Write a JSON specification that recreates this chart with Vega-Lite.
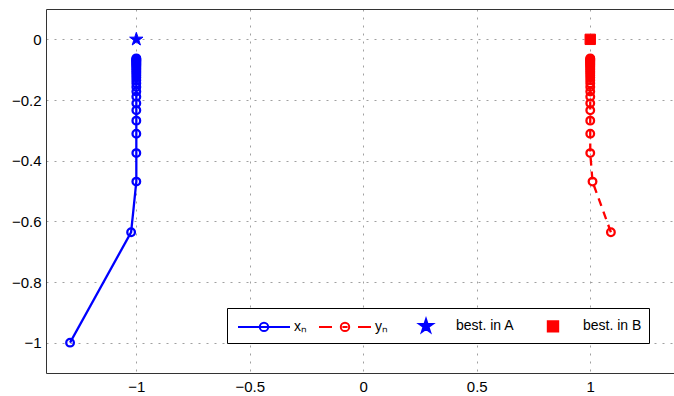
{
  "$schema": "https://vega.github.io/schema/vega-lite/v6.json",
  "autosize": "none",
  "width": 628,
  "height": 364,
  "padding": {"left": 46, "top": 9, "right": 0, "bottom": 23},
  "background": "white",
  "config": {
    "view": {"stroke": null},
    "font": "Liberation Sans",
    "axis": {
      "labelFont": "Liberation Sans",
      "labelFontSize": 15,
      "labelColor": "#000",
      "domainColor": "#333",
      "domainWidth": 1,
      "gridColor": "#a0a0a0",
      "gridDash": [2, 6],
      "gridWidth": 1,
      "ticks": false,
      "title": null
    },
    "legend": {
      "labelFont": "Liberation Sans",
      "labelFontSize": 14,
      "labelColor": "#000"
    }
  },
  "datasets": {
    "traj": [
      {"series": "x", "label": "xₙ", "n": 1, "x": -1.292, "y": -1.0},
      {"series": "x", "label": "xₙ", "n": 2, "x": -1.023, "y": -0.636},
      {"series": "x", "label": "xₙ", "n": 3, "x": -1.0, "y": -0.469},
      {"series": "x", "label": "xₙ", "n": 4, "x": -1.0, "y": -0.375},
      {"series": "x", "label": "xₙ", "n": 5, "x": -1.0, "y": -0.311},
      {"series": "x", "label": "xₙ", "n": 6, "x": -1.0, "y": -0.268},
      {"series": "x", "label": "xₙ", "n": 7, "x": -1.0, "y": -0.234},
      {"series": "x", "label": "xₙ", "n": 8, "x": -1.0, "y": -0.211},
      {"series": "x", "label": "xₙ", "n": 9, "x": -1.0, "y": -0.189},
      {"series": "x", "label": "xₙ", "n": 10, "x": -1.0, "y": -0.172},
      {"series": "x", "label": "xₙ", "n": 11, "x": -1.0, "y": -0.157},
      {"series": "x", "label": "xₙ", "n": 12, "x": -1.0, "y": -0.145},
      {"series": "x", "label": "xₙ", "n": 13, "x": -1.0, "y": -0.135},
      {"series": "x", "label": "xₙ", "n": 14, "x": -1.0, "y": -0.126},
      {"series": "x", "label": "xₙ", "n": 15, "x": -1.0, "y": -0.118},
      {"series": "x", "label": "xₙ", "n": 16, "x": -1.0, "y": -0.111},
      {"series": "x", "label": "xₙ", "n": 17, "x": -1.0, "y": -0.105},
      {"series": "x", "label": "xₙ", "n": 18, "x": -1.0, "y": -0.0995},
      {"series": "x", "label": "xₙ", "n": 19, "x": -1.0, "y": -0.0944},
      {"series": "x", "label": "xₙ", "n": 20, "x": -1.0, "y": -0.0899},
      {"series": "x", "label": "xₙ", "n": 21, "x": -1.0, "y": -0.0857},
      {"series": "x", "label": "xₙ", "n": 22, "x": -1.0, "y": -0.082},
      {"series": "x", "label": "xₙ", "n": 23, "x": -1.0, "y": -0.0785},
      {"series": "x", "label": "xₙ", "n": 24, "x": -1.0, "y": -0.0753},
      {"series": "x", "label": "xₙ", "n": 25, "x": -1.0, "y": -0.0724},
      {"series": "x", "label": "xₙ", "n": 26, "x": -1.0, "y": -0.0697},
      {"series": "x", "label": "xₙ", "n": 27, "x": -1.0, "y": -0.0672},
      {"series": "x", "label": "xₙ", "n": 28, "x": -1.0, "y": -0.0648},
      {"series": "x", "label": "xₙ", "n": 29, "x": -1.0, "y": -0.0627},
      {"series": "y", "label": "yₙ", "n": 2, "x": 1.091, "y": -0.636},
      {"series": "y", "label": "yₙ", "n": 3, "x": 1.01, "y": -0.469},
      {"series": "y", "label": "yₙ", "n": 4, "x": 1.0, "y": -0.375},
      {"series": "y", "label": "yₙ", "n": 5, "x": 1.0, "y": -0.311},
      {"series": "y", "label": "yₙ", "n": 6, "x": 1.0, "y": -0.268},
      {"series": "y", "label": "yₙ", "n": 7, "x": 1.0, "y": -0.234},
      {"series": "y", "label": "yₙ", "n": 8, "x": 1.0, "y": -0.211},
      {"series": "y", "label": "yₙ", "n": 9, "x": 1.0, "y": -0.189},
      {"series": "y", "label": "yₙ", "n": 10, "x": 1.0, "y": -0.172},
      {"series": "y", "label": "yₙ", "n": 11, "x": 1.0, "y": -0.157},
      {"series": "y", "label": "yₙ", "n": 12, "x": 1.0, "y": -0.145},
      {"series": "y", "label": "yₙ", "n": 13, "x": 1.0, "y": -0.135},
      {"series": "y", "label": "yₙ", "n": 14, "x": 1.0, "y": -0.126},
      {"series": "y", "label": "yₙ", "n": 15, "x": 1.0, "y": -0.118},
      {"series": "y", "label": "yₙ", "n": 16, "x": 1.0, "y": -0.111},
      {"series": "y", "label": "yₙ", "n": 17, "x": 1.0, "y": -0.105},
      {"series": "y", "label": "yₙ", "n": 18, "x": 1.0, "y": -0.0995},
      {"series": "y", "label": "yₙ", "n": 19, "x": 1.0, "y": -0.0944},
      {"series": "y", "label": "yₙ", "n": 20, "x": 1.0, "y": -0.0899},
      {"series": "y", "label": "yₙ", "n": 21, "x": 1.0, "y": -0.0857},
      {"series": "y", "label": "yₙ", "n": 22, "x": 1.0, "y": -0.082},
      {"series": "y", "label": "yₙ", "n": 23, "x": 1.0, "y": -0.0785},
      {"series": "y", "label": "yₙ", "n": 24, "x": 1.0, "y": -0.0753},
      {"series": "y", "label": "yₙ", "n": 25, "x": 1.0, "y": -0.0724},
      {"series": "y", "label": "yₙ", "n": 26, "x": 1.0, "y": -0.0697},
      {"series": "y", "label": "yₙ", "n": 27, "x": 1.0, "y": -0.0672},
      {"series": "y", "label": "yₙ", "n": 28, "x": 1.0, "y": -0.0648},
      {"series": "y", "label": "yₙ", "n": 29, "x": 1.0, "y": -0.0627}
    ],
    "best": [
      {"label": "best. in A", "x": -1.0, "y": 0.0},
      {"label": "best. in B", "x": 1.0, "y": 0.0}
    ]
  },
  "resolve": {"axis": {"x": "independent"}},
  "layer": [
    {
      "data": {"name": "traj"},
      "mark": {"type": "line", "strokeWidth": 2.3},
      "encoding": {
        "x": {"field": "x", "type": "quantitative",
              "scale": {"domain": [-1.398, 1.369], "nice": false, "zero": false},
              "axis": {"orient": "bottom", "values": [-1, -0.5, 0, 0.5, 1], "format": "~g", "labelPadding": 6, "grid": true}},
        "y": {"field": "y", "type": "quantitative",
              "scale": {"domain": [-1.1, 0.1], "nice": false, "zero": false},
              "axis": {"values": [0, -0.2, -0.4, -0.6, -0.8, -1], "format": "~g", "labelPadding": 5, "grid": true}},
        "order": {"field": "n", "type": "quantitative"},
        "detail": {"field": "series"},
        "color": {"field": "label", "type": "nominal",
                  "scale": {"domain": ["xₙ", "yₙ"], "range": ["#0000ff", "#ff0000"]},
                  "legend": null},
        "strokeDash": {"field": "series", "type": "nominal",
                       "scale": {"domain": ["x", "y"], "range": [[1, 0], [8, 6]]},
                       "legend": null}
      }
    },
    {
      "data": {"name": "traj"},
      "mark": {"type": "point", "shape": "circle", "filled": false, "size": 58, "strokeWidth": 2.3, "opacity": 1},
      "encoding": {
        "x": {"field": "x", "type": "quantitative", "axis": null},
        "y": {"field": "y", "type": "quantitative"},
        "color": {"field": "label", "type": "nominal", "legend": null}
      }
    },
    {
      "data": {"name": "best"},
      "mark": {"type": "point", "size": 400, "strokeWidth": 1, "opacity": 1},
      "encoding": {
        "x": {"field": "x", "type": "quantitative",
              "axis": {"orient": "top", "labels": false, "grid": false, "domain": true}},
        "y": {"field": "y", "type": "quantitative"},
        "stroke": {"field": "label", "type": "nominal",
                   "scale": {"domain": ["xₙ", "yₙ", "best. in A", "best. in B"], "range": ["#0000ff", "#ff0000", "#0000ff", "#ff0000"]},
                   "legend": {"title": null, "orient": "none", "legendX": 181, "legendY": 299,
                              "direction": "horizontal", "columns": 4, "columnPadding": 8,
                              "labelOffset": 19, "symbolOffset": 19, "symbolSize": 400, "symbolStrokeWidth": 2,
                              "padding": 7, "strokeColor": "#000", "fillColor": "#fff"}},
        "fill": {"field": "label", "type": "nominal",
                 "scale": {"domain": ["xₙ", "yₙ", "best. in A", "best. in B"], "range": ["transparent", "transparent", "#0000ff", "#ff0000"]},
                 "legend": {"title": null, "orient": "none", "legendX": 181, "legendY": 299,
                              "direction": "horizontal", "columns": 4, "columnPadding": 8,
                              "labelOffset": 19, "symbolOffset": 19, "symbolSize": 400, "symbolStrokeWidth": 2,
                              "padding": 7, "strokeColor": "#000", "fillColor": "#fff"}},
        "shape": {"field": "label", "type": "nominal",
                  "scale": {"domain": ["xₙ", "yₙ", "best. in A", "best. in B"],
                            "range": [
                              "M-2.6,0H2.6M0.42,0A0.42,0.42,0,1,1,-0.42,0A0.42,0.42,0,1,1,0.42,0",
                              "M-2.6,0H-1.3M1.3,0H2.6M-0.26,0H0.26M0.42,0A0.42,0.42,0,1,1,-0.42,0A0.42,0.42,0,1,1,0.42,0",
                              "M0,-0.702L0.1576,-0.2168L0.6677,-0.2168L0.2551,0.0829L0.4126,0.5678L0,0.2681L-0.4126,0.5678L-0.2551,0.0829L-0.6677,-0.2168L-0.1576,-0.2168Z",
                              "M-0.52,-0.52H0.52V0.52H-0.52Z"
                            ]},
                  "legend": {"title": null, "orient": "none", "legendX": 181, "legendY": 299,
                              "direction": "horizontal", "columns": 4, "columnPadding": 8,
                              "labelOffset": 19, "symbolOffset": 19, "symbolSize": 400, "symbolStrokeWidth": 2,
                              "padding": 7, "strokeColor": "#000", "fillColor": "#fff"}}
      }
    }
  ]
}
